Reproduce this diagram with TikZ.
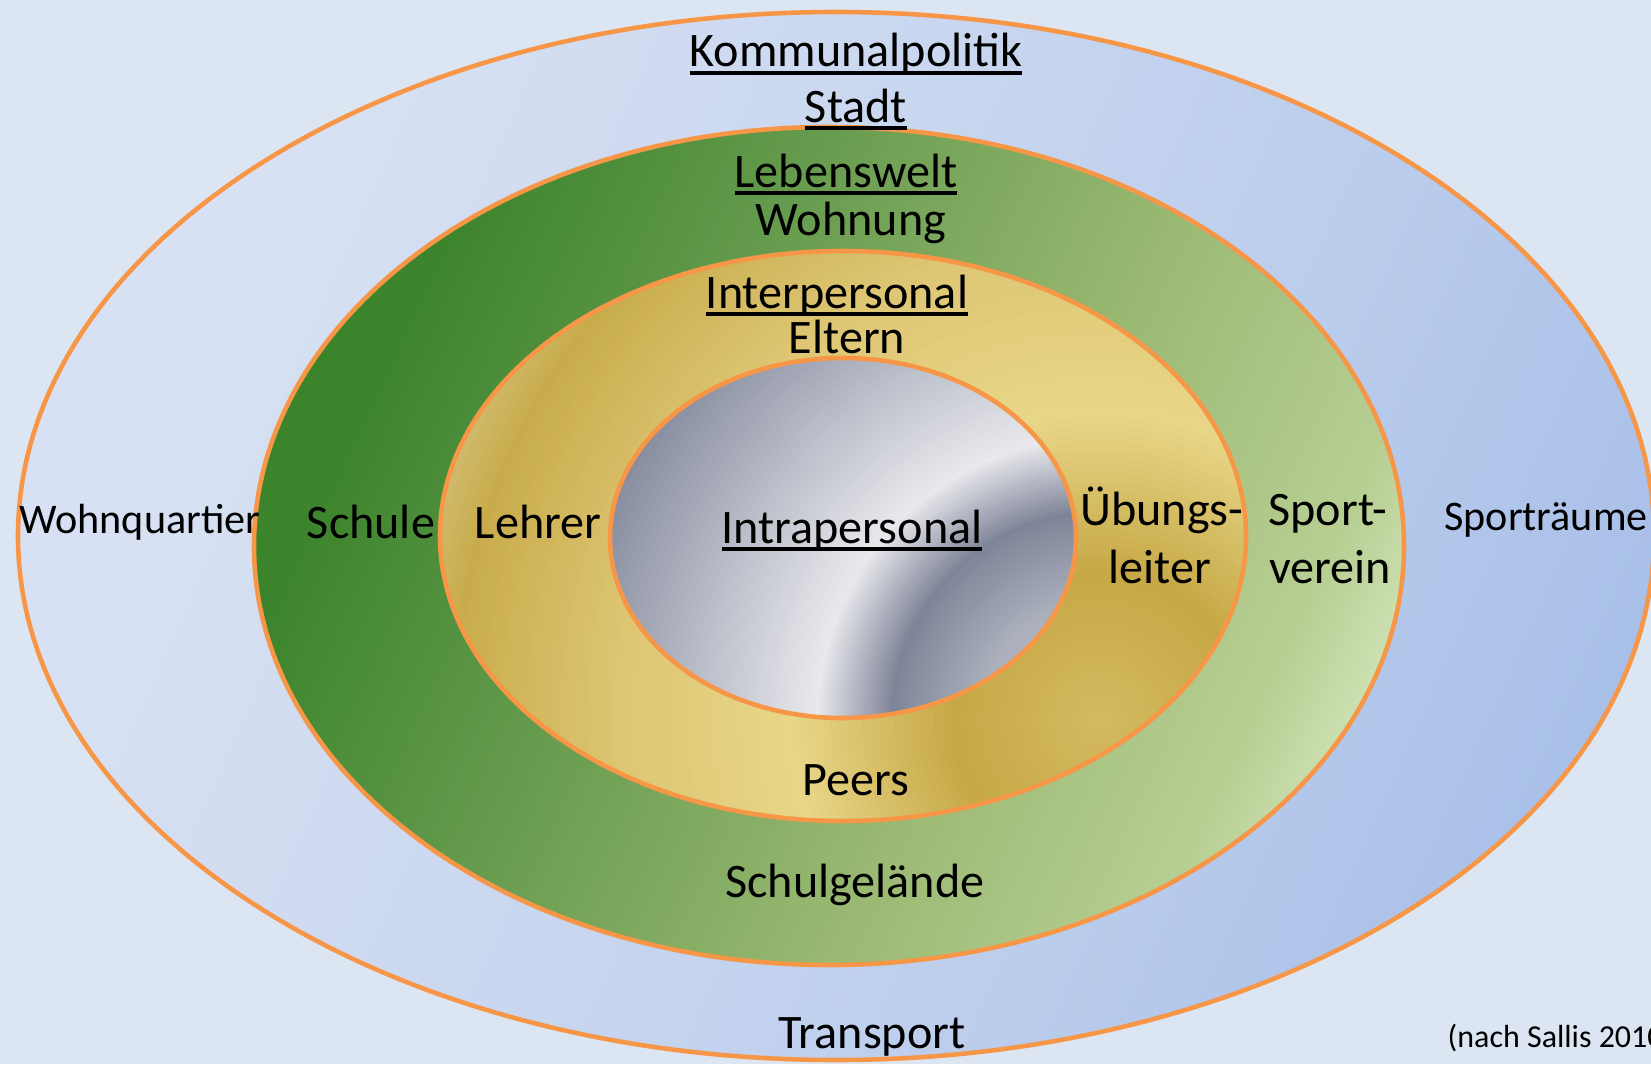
\documentclass[tikz,border=0pt]{standalone}
\usepackage{fontspec}
\setmainfont{Carlito}

\definecolor{hintergrund}{HTML}{DCE6F2}
\definecolor{randorange}{HTML}{F79646}
\definecolor{b0}{HTML}{DAE3F4}
\definecolor{b1}{HTML}{D7E1F3}
\definecolor{b2}{HTML}{D0DBF1}
\definecolor{b3}{HTML}{CBD8F0}
\definecolor{b4}{HTML}{BBCDEC}
\definecolor{b5}{HTML}{A8BFE8}
\definecolor{b6}{HTML}{A4BCE6}
\definecolor{g0}{HTML}{3A822A}
\definecolor{g1}{HTML}{3C842C}
\definecolor{g2}{HTML}{62994A}
\definecolor{g3}{HTML}{9CBA74}
\definecolor{g4}{HTML}{B8CF94}
\definecolor{g5}{HTML}{CCE0B0}
\definecolor{g6}{HTML}{D0E4B6}
\definecolor{y0}{HTML}{D4BA62}
\definecolor{y1}{HTML}{C6A846}
\definecolor{y2}{HTML}{E8D688}
\definecolor{y3}{HTML}{DEC674}
\definecolor{y4}{HTML}{C8AC4C}
\definecolor{y5}{HTML}{D8C688}
\definecolor{s0}{HTML}{C0C4CC}
\definecolor{s1}{HTML}{ABB0BC}
\definecolor{s2}{HTML}{7F8599}
\definecolor{s3}{HTML}{E9E9ED}
\definecolor{s4}{HTML}{BCC0CA}

\pgfdeclarehorizontalshading{blauring}{100bp}{color(0bp)=(b0); color(28bp)=(b1); color(38bp)=(b2); color(44bp)=(b3); color(62bp)=(b4); color(77bp)=(b5); color(100bp)=(b6)}
\pgfdeclarehorizontalshading{gruenring}{100bp}{color(0bp)=(g0); color(27bp)=(g1); color(40bp)=(g2); color(59bp)=(g3); color(72bp)=(g4); color(76bp)=(g5); color(100bp)=(g6)}

\newcommand{\unterstr}[1]{\setbox0\hbox{#1}\rlap{\rule[-0.16em]{\wd0}{0.07em}}\box0}

\begin{document}
\begin{tikzpicture}[
  ring/.style={draw=randorange, line width=1.3pt},
  titel/.style={anchor=base, inner sep=0pt, font=\fontsize{13.7}{16}\selectfont},
  klein/.style={anchor=base, inner sep=0pt, font=\fontsize{12}{14}\selectfont},
  quelle/.style={inner sep=0pt, font=\fontsize{9.1}{11}\selectfont}]
\useasboundingbox (0,0) rectangle (16.51,10.64);
\clip (0,0) rectangle (16.51,10.64);
\fill[hintergrund] (0,0) rectangle (16.51,10.64);

\path[ring, shading=blauring, shading angle=-24] (8.36,5.28) ellipse [x radius=8.18, y radius=5.24];
\path[ring, shading=gruenring, shading angle=-25] (8.29,5.18) ellipse [x radius=5.75, y radius=4.19];

% gold ring: circular bands round (11,3.44)
\coordinate (mg) at (11,3.44);
\begin{scope}
  \clip (8.43,5.28) ellipse [x radius=4.03, y radius=2.85];
  \foreach \ra/\rb/\ca/\cb in {8.5/7.4/y5/y5, 7.4/6.5/y5/y4, 6.5/4.8/y4/y3, 4.8/3.1/y3/y2, 3.1/1.5/y2/y1, 1.5/0/y1/y0}
    \foreach \k in {0,...,19} {
      \pgfmathsetmacro\rad{\ra-(\ra-\rb)*\k/20}
      \pgfmathsetmacro\pct{5*\k}
      \fill[\cb!\pct!\ca] (mg) circle [radius=\rad];
    }
\end{scope}
\draw[ring] (8.43,5.28) ellipse [x radius=4.03, y radius=2.85];

% silver core, same centre
\begin{scope}
  \clip (8.43,5.26) ellipse [x radius=2.33, y radius=1.80];
  \foreach \ra/\rb/\ca/\cb in {6.5/5.6/s2/s2, 5.6/4.0/s2/s4, 4.0/2.85/s4/s3, 2.85/2.1/s3/s2, 2.1/1.2/s2/s1, 1.2/0/s1/s0}
    \foreach \k in {0,...,19} {
      \pgfmathsetmacro\rad{\ra-(\ra-\rb)*\k/20}
      \pgfmathsetmacro\pct{5*\k}
      \fill[\cb!\pct!\ca] (mg) circle [radius=\rad];
    }
\end{scope}
\draw[ring] (8.43,5.26) ellipse [x radius=2.33, y radius=1.80];

\node[titel] (kp) at (8.56,9.97) {\unterstr{Kommunalpolitik}};
\node[titel] (st) at (8.56,9.42) {\unterstr{Stadt}};
\node[titel] (lw) at (8.46,8.77) {\unterstr{Lebenswelt}};
\node[titel] (wo) at (8.51,8.29) {Wohnung};
\node[titel] (ip) at (8.37,7.56) {\unterstr{Interpersonal}};
\node[titel] (el) at (8.47,7.11) {Eltern};
\node[titel] (ia) at (8.52,5.21) {\unterstr{Intrapersonal}};

\node[klein] (wq) at (1.40,5.31) {Wohnquartier};
\node[titel] (sc) at (3.71,5.26) {Schule};
\node[titel] (le) at (5.38,5.26) {Lehrer};
\node[titel] (ub) at (11.62,5.39) {Übungs-};
\node[titel] (lt) at (11.60,4.81) {leiter};
\node[titel] (sp) at (13.28,5.39) {Sport-};
\node[titel] (ve) at (13.30,4.81) {verein};
\node[klein] (sr) at (15.46,5.34) {Sporträume};

\node[titel] (pe) at (8.56,2.69) {Peers};
\node[titel] (sg) at (8.55,1.67) {Schulgelände};
\node[titel] (tr) at (8.72,0.16) {Transport};
\node[quelle, anchor=base west] (ql) at (14.47,0.17) {(nach Sallis 2010)};
\end{tikzpicture}
\end{document}
